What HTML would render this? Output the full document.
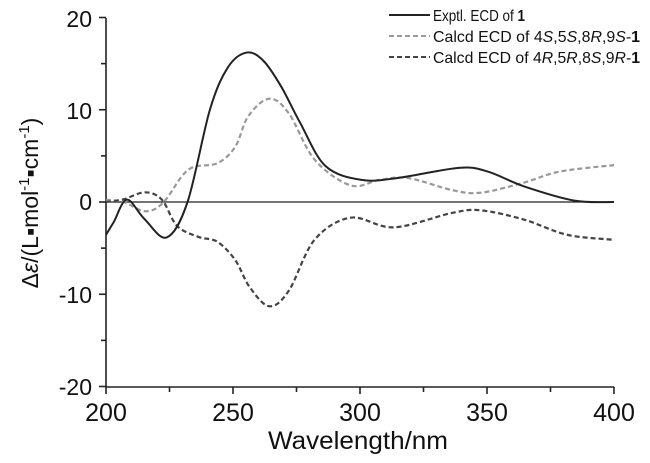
<!DOCTYPE html>
<html><head><meta charset="utf-8"><style>
html,body{margin:0;padding:0;background:#fff;}
svg{display:block;font-family:"Liberation Sans",Arial,sans-serif;}
</style></head><body>
<svg id="s" width="650" height="463" viewBox="0 0 650 463">
<g stroke="#222" stroke-width="1.6" fill="none">
<line x1="106" y1="18" x2="106" y2="387"/>
<line x1="106" y1="387" x2="614" y2="387"/>
<line x1="106" y1="202" x2="614" y2="202" stroke-width="1.2"/>
<g id="ticks"></g>
</g>
<g font-size="23" fill="#111" text-anchor="end">
<text x="92" y="27">20</text><text x="92" y="119">10</text><text x="92" y="210">0</text>
<text x="92" y="303">-10</text><text x="92" y="395">-20</text>
</g>
<g font-size="25" fill="#111" text-anchor="middle">
<text x="106" y="421">200</text><text x="233" y="421">250</text><text x="360" y="421">300</text>
<text x="487" y="421">350</text><text x="614" y="421">400</text>
</g>
<text x="268" y="449" font-size="25" fill="#111" textLength="180" lengthAdjust="spacingAndGlyphs">Wavelength/nm</text>
<text transform="translate(38,203) rotate(-90)" font-size="23" text-anchor="middle" fill="#111">Δ<tspan font-style="italic">ε</tspan>/(L▪mol<tspan font-size="15" dy="-9">-1</tspan><tspan dy="9">▪cm</tspan><tspan font-size="15" dy="-9">-1</tspan><tspan dy="9">)</tspan></text>
<g id="curves" fill="none"></g>
<g font-size="16" fill="#111">
<line x1="389" y1="15" x2="430" y2="15" stroke="#222" stroke-width="2"/>
<text x="433" y="21" textLength="92" lengthAdjust="spacingAndGlyphs">Exptl. ECD of <tspan font-weight="bold">1</tspan></text>
<line x1="389" y1="36" x2="430" y2="36" stroke="#999" stroke-width="2" stroke-dasharray="5,3"/>
<text x="433" y="42" textLength="207" lengthAdjust="spacingAndGlyphs">Calcd ECD of 4<tspan font-style="italic">S</tspan>,5<tspan font-style="italic">S</tspan>,8<tspan font-style="italic">R</tspan>,9<tspan font-style="italic">S</tspan>-<tspan font-weight="bold">1</tspan></text>
<line x1="389" y1="57" x2="430" y2="57" stroke="#444" stroke-width="2" stroke-dasharray="5,3"/>
<text x="433" y="63" textLength="207" lengthAdjust="spacingAndGlyphs">Calcd ECD of 4<tspan font-style="italic">R</tspan>,5<tspan font-style="italic">R</tspan>,8<tspan font-style="italic">S</tspan>,9<tspan font-style="italic">R</tspan>-<tspan font-weight="bold">1</tspan></text>
</g>
</svg>
<script>
var X=function(w){return 106+(w-200)*508/200;},Y=function(v){return 202-v*9.225;};
var t="";
for(var w=200;w<=400;w+=25){var L=(w%50==0)?7:5;t+='<line x1="'+X(w)+'" y1="387" x2="'+X(w)+'" y2="'+(387+L)+'"/>';}
for(var v=-20;v<=20;v+=5){var L=(v%10==0)?7:5;t+='<line x1="106" y1="'+Y(v)+'" x2="'+(106-L)+'" y2="'+Y(v)+'"/>';}
document.getElementById("ticks").innerHTML=t;
function path(d){var p=d.map(function(a){return [X(a[0]),Y(a[1])];});var s="M"+p[0][0]+","+p[0][1];
for(var i=0;i<p.length-1;i++){var p0=p[i-1]||p[i],p1=p[i],p2=p[i+1],p3=p[i+2]||p2;
s+=" C"+(p1[0]+(p2[0]-p0[0])/6)+","+(p1[1]+(p2[1]-p0[1])/6)+" "+(p2[0]-(p3[0]-p1[0])/6)+","+(p2[1]-(p3[1]-p1[1])/6)+" "+p2[0]+","+p2[1];}return s;}
var solid=[[200,-3.55],[203,-2.2],[208.2,0.25],[215,-1.8],[223.9,-3.84],[232.1,0],[240.9,10],[248,14.6],[255.4,16.2],[262,15.3],[269,12.5],[276.4,8.6],[286.4,3.9],[300.6,2.4],[314.8,2.6],[338.9,3.7],[350.3,3.3],[364.5,1.7],[384.4,0.15],[400,0]];
var light=[[200,0.25],[207,0],[215.3,-1],[222.4,-0.1],[232.4,3.5],[243.8,4.2],[250.9,6],[256,9.3],[264.3,11.2],[272,9.6],[282.1,4.6],[296.3,1.8],[307.7,2.4],[319,2.6],[336.1,1.3],[347.4,1],[364.5,2.1],[378.7,3.3],[400,4]];
var dark=[[200,0],[207,0.3],[215.3,1.05],[222,0.25],[228,-2.6],[236.6,-3.8],[243.8,-4.3],[250.9,-6.3],[256.5,-9.2],[264.3,-11.3],[272,-9.6],[282.1,-4.1],[296.3,-1.7],[313.3,-2.75],[336,-1.2],[347.4,-0.9],[364.5,-1.9],[381.5,-3.55],[400,-4.1]];
document.getElementById("curves").innerHTML=
'<path d="'+path(light)+'" stroke="#999" stroke-width="2.2" stroke-dasharray="5,3"/>'+
'<path d="'+path(dark)+'" stroke="#444" stroke-width="2.2" stroke-dasharray="5,3"/>'+
'<path d="'+path(solid)+'" stroke="#222" stroke-width="2"/>';
</script>
</body></html>
